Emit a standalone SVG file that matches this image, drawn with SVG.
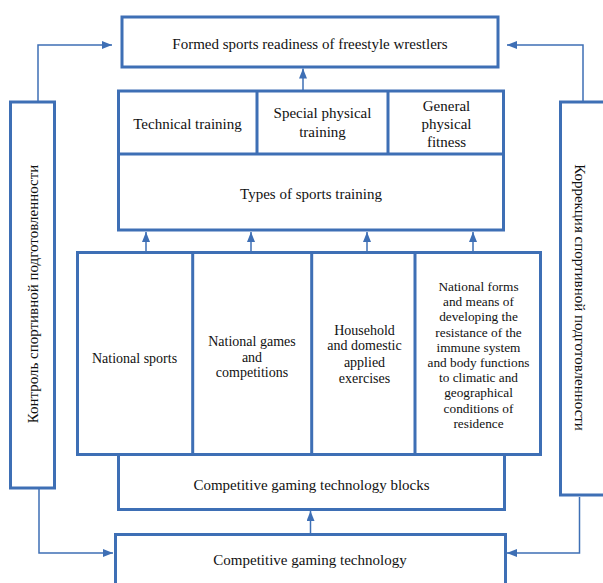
<svg xmlns="http://www.w3.org/2000/svg" width="603" height="583" viewBox="0 0 603 583">
<style>
.box{fill:#fff;stroke:#3e6fb5;stroke-width:3}
.div{fill:none;stroke:#3e6fb5;stroke-width:3}
.con{fill:none;stroke:#3e6fb5;stroke-width:1.5}
text{fill:#111;text-anchor:middle}
.t15{font-size:15px}
.t14{font-size:14px}
.t13{font-size:13.3px}
</style>
<defs>
<marker id="ah" viewBox="0 0 10 8" refX="10" refY="4" markerWidth="10" markerHeight="8" markerUnits="userSpaceOnUse" orient="auto">
<path d="M0,0 L10,4 L0,8 Z" fill="#3e6fb5"/>
</marker>
</defs>
<rect width="603" height="583" fill="#fff"/>
<g id="connectors">
<path class="con" d="M38,102 V45 H112" marker-end="url(#ah)"/>
<path class="con" d="M583,102 V45 H507" marker-end="url(#ah)"/>
<path class="con" d="M303,91 V68.5" marker-end="url(#ah)"/>
<path class="con" d="M146,252 V232" marker-end="url(#ah)"/>
<path class="con" d="M251,252 V232" marker-end="url(#ah)"/>
<path class="con" d="M367,252 V232" marker-end="url(#ah)"/>
<path class="con" d="M473,252 V232" marker-end="url(#ah)"/>
<path class="con" d="M310.5,534 V511" marker-end="url(#ah)"/>
<path class="con" d="M39,489 V553 H113" marker-end="url(#ah)"/>
<path class="con" d="M579.5,497 V553 H507" marker-end="url(#ah)"/>
</g>
<g font-family="'Liberation Serif', 'Times New Roman', 'DejaVu Serif', serif">
<g id="readiness">
<rect class="box" x="122" y="17" width="376" height="50"/>
<text class="t15" x="310" y="48.5">Formed sports readiness of freestyle wrestlers</text>
</g>
<g id="types">
<rect class="box" x="118.5" y="91" width="385" height="139"/>
<path class="div" d="M118.5,154 H503.5 M257,91 V154 M388,91 V154"/>
<text class="t15" x="311" y="198.5">Types of sports training</text>
</g>
<g id="technical">
<text class="t15" x="187.5" y="128.5">Technical training</text>
</g>
<g id="special">
<text class="t15" x="322.5" y="118">Special physical</text>
<text class="t15" x="322.5" y="136.7">training</text>
</g>
<g id="general">
<text class="t15" x="446.5" y="111">General</text>
<text class="t15" x="446.5" y="129">physical</text>
<text class="t15" x="446.5" y="146.7">fitness</text>
</g>
<g id="blocks">
<rect class="box" x="118.5" y="454.5" width="386" height="55"/>
<text class="t15" x="311.5" y="490">Competitive gaming technology blocks</text>
</g>
<g id="activities">
<rect class="box" x="77.5" y="252.5" width="463" height="202"/>
<path class="div" d="M192.7,252.5 V454.5 M311.7,252.5 V454.5 M415,252.5 V454.5"/>
</g>
<g id="national-sports">
<text class="t14" x="134.5" y="362.5">National sports</text>
</g>
<g id="national-games">
<text class="t14" x="252" y="346">National games</text>
<text class="t14" x="252" y="361.5">and</text>
<text class="t14" x="252" y="377">competitions</text>
</g>
<g id="household">
<text class="t14" x="364.5" y="334.5">Household</text>
<text class="t14" x="364.5" y="350.3">and domestic</text>
<text class="t14" x="364.5" y="366.8">applied</text>
<text class="t14" x="364.5" y="382.6">exercises</text>
</g>
<g id="national-forms">
<text class="t13" x="478.5" y="291">National forms</text>
<text class="t13" x="478.5" y="306.2">and means of</text>
<text class="t13" x="478.5" y="321.4">developing the</text>
<text class="t13" x="478.5" y="336.6">resistance of the</text>
<text class="t13" x="478.5" y="351.8">immune system</text>
<text class="t13" x="478.5" y="367">and body functions</text>
<text class="t13" x="478.5" y="382.2">to climatic and</text>
<text class="t13" x="478.5" y="397.4">geographical</text>
<text class="t13" x="478.5" y="412.6">conditions of</text>
<text class="t13" x="478.5" y="427.8">residence</text>
</g>
<g id="technology">
<rect class="box" x="115.5" y="534.5" width="390" height="60"/>
<text class="t15" x="310" y="565">Competitive gaming technology</text>
</g>
<g id="control">
<rect class="box" x="10.5" y="102" width="44" height="386"/>
<text class="t15" transform="translate(38,294) rotate(-90)">Контроль спортивной подготовленности</text>
</g>
<g id="correction">
<rect class="box" x="560.5" y="102" width="50" height="393"/>
<text class="t15" transform="translate(575,297.5) rotate(90)">Коррекция спортивной подготовленности</text>
</g>
</g>
</svg>
